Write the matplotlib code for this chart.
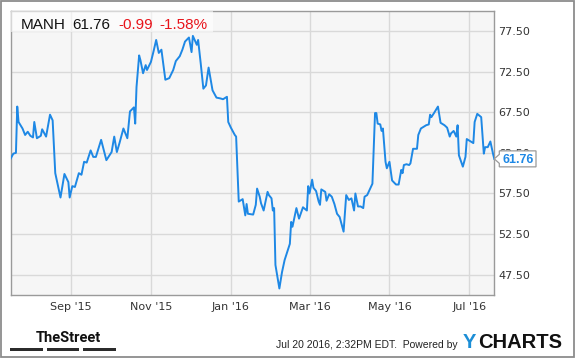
import matplotlib
matplotlib.use('Agg')
import matplotlib.pyplot as plt
import matplotlib.dates as mdates
import matplotlib.transforms as mtransforms
from matplotlib.patches import Rectangle, Polygon
import pandas as pd

ticker = "MANH"
last_price = 61.76
change = -0.99
change_pct = -1.58
timestamp = "Jul 20 2016, 2:32PM EDT."

dates = [
    "2015-07-17", "2015-07-19", "2015-07-21", "2015-07-22", "2015-07-23", "2015-07-26",
    "2015-07-28", "2015-07-30", "2015-08-01", "2015-08-03", "2015-08-04", "2015-08-06",
    "2015-08-09", "2015-08-10", "2015-08-13", "2015-08-16", "2015-08-18", "2015-08-20",
    "2015-08-24", "2015-08-27", "2015-08-30", "2015-08-31", "2015-09-02", "2015-09-04",
    "2015-09-07", "2015-09-09", "2015-09-11", "2015-09-13", "2015-09-16", "2015-09-17",
    "2015-09-18", "2015-09-20", "2015-09-24", "2015-09-28", "2015-10-02", "2015-10-04",
    "2015-10-06", "2015-10-08", "2015-10-11", "2015-10-14", "2015-10-16", "2015-10-19",
    "2015-10-20", "2015-10-21", "2015-10-23", "2015-10-24", "2015-10-26", "2015-10-28",
    "2015-10-29", "2015-11-01", "2015-11-03", "2015-11-05", "2015-11-07", "2015-11-09",
    "2015-11-12", "2015-11-15", "2015-11-18", "2015-11-20", "2015-11-23", "2015-11-25",
    "2015-11-27", "2015-11-30", "2015-12-02", "2015-12-03", "2015-12-06", "2015-12-07",
    "2015-12-09", "2015-12-11", "2015-12-13", "2015-12-15", "2015-12-18", "2015-12-21",
    "2015-12-24", "2015-12-26", "2015-12-29", "2015-12-30", "2016-01-01", "2016-01-04",
    "2016-01-05", "2016-01-07", "2016-01-10", "2016-01-12", "2016-01-13", "2016-01-14",
    "2016-01-18", "2016-01-20", "2016-01-21", "2016-01-23", "2016-01-24", "2016-01-26",
    "2016-01-29", "2016-01-30", "2016-02-01", "2016-02-02", "2016-02-03", "2016-02-04",
    "2016-02-07", "2016-02-09", "2016-02-11", "2016-02-15", "2016-02-16", "2016-02-17",
    "2016-02-20", "2016-02-22", "2016-02-25", "2016-02-28", "2016-02-29", "2016-03-01",
    "2016-03-03", "2016-03-04", "2016-03-06", "2016-03-08", "2016-03-09", "2016-03-10",
    "2016-03-13", "2016-03-14", "2016-03-16", "2016-03-18", "2016-03-20", "2016-03-22",
    "2016-03-24", "2016-03-27", "2016-03-29", "2016-03-31", "2016-04-02", "2016-04-04",
    "2016-04-05", "2016-04-07", "2016-04-09", "2016-04-11", "2016-04-12", "2016-04-14",
    "2016-04-18", "2016-04-20", "2016-04-21", "2016-04-22", "2016-04-24", "2016-04-25",
    "2016-04-26", "2016-04-28", "2016-04-29", "2016-05-01", "2016-05-03", "2016-05-06",
    "2016-05-08", "2016-05-10", "2016-05-11", "2016-05-12", "2016-05-14", "2016-05-16",
    "2016-05-17", "2016-05-19", "2016-05-22", "2016-05-23", "2016-05-25", "2016-05-29",
    "2016-05-31", "2016-06-01", "2016-06-02", "2016-06-04", "2016-06-07", "2016-06-09",
    "2016-06-12", "2016-06-14", "2016-06-16", "2016-06-17", "2016-06-19", "2016-06-21",
    "2016-06-22", "2016-06-23", "2016-06-26", "2016-06-28", "2016-06-29", "2016-07-02",
    "2016-07-04", "2016-07-05", "2016-07-07", "2016-07-10", "2016-07-12", "2016-07-13",
    "2016-07-15", "2016-07-17", "2016-07-19", "2016-07-20",
]

prices = [
    61.8, 62.4, 62.5, 68.2, 66.3, 65.5,
    64.7, 65.1, 64.6, 64.4, 66.3, 64.3,
    64.6, 65.4, 64.5, 67.2, 66.5, 60.0,
    57.0, 59.9, 58.9, 57.0, 58.4, 58.3,
    60.0, 59.8, 61.4, 61.3, 62.8, 62.4,
    62.0, 62.0, 64.1, 61.6, 62.6, 64.5,
    62.6, 63.7, 65.5, 64.3, 67.6, 68.1,
    66.1, 70.6, 74.5, 73.9, 72.3, 73.3,
    72.7, 73.7, 75.0, 76.4, 74.8, 75.2,
    71.5, 71.7, 72.7, 73.8, 74.4, 75.2,
    76.2, 76.7, 74.9, 76.9, 75.8, 76.4,
    73.5, 70.4, 70.8, 73.0, 70.2, 69.3,
    69.2, 69.1, 69.4, 66.3, 65.6, 64.7,
    64.5, 56.5, 56.8, 54.8, 56.2, 55.0,
    54.9, 56.1, 58.1, 57.1, 56.3, 55.4,
    57.7, 57.3, 56.9, 55.4, 55.7, 48.7,
    45.8, 47.8, 49.3, 51.3, 54.0, 53.4,
    55.7, 54.4, 55.8, 55.4, 58.4, 57.5,
    59.2, 58.2, 57.8, 56.5, 56.1, 58.0,
    57.7, 56.6, 57.4, 57.1, 56.2, 55.0,
    54.6, 52.8, 57.3, 56.7, 56.9, 55.4,
    57.5, 55.9, 55.9, 55.7, 57.1, 57.3,
    58.7, 67.4, 67.4, 66.1, 66.0, 65.2,
    65.5, 61.4, 60.6, 61.4, 59.1, 58.6,
    58.6, 60.4, 60.0, 61.0, 61.1, 61.0,
    61.2, 63.0, 63.0, 64.7, 65.5, 65.9,
    66.0, 67.2, 66.9, 67.4, 68.2, 66.2,
    65.9, 65.6, 64.5, 64.9, 65.2, 64.5,
    65.9, 62.2, 60.8, 62.0, 64.2, 63.9,
    63.7, 66.3, 67.3, 66.9, 62.4, 63.2,
    63.2, 63.9, 62.4, 61.76,
]

y_ticks = [47.5, 52.5, 57.5, 62.5, 67.5, 72.5, 77.5]
y_range = [45, 80]
x_tick_dates = ["2015-09-01", "2015-11-01", "2016-01-01", "2016-03-01", "2016-05-01", "2016-07-01"]
x_tick_labels = ["Sep '15", "Nov '15", "Jan '16", "Mar '16", "May '16", "Jul '16"]

LINE = '#1e88e5'
SANS = ['Liberation Sans', 'DejaVu Sans']

W, H = 575, 358
fig = plt.figure(figsize=(W / 100, H / 100), dpi=100)
L, R, T, B = 10.7, 494.3, 10.7, 295.0
ax = fig.add_axes([L / W, 1 - B / H, (R - L) / W, (B - T) / H])
ax.set_facecolor('#f6f6f6')

d = pd.to_datetime(dates)
ax.plot(d, prices, color=LINE, lw=1.4, zorder=3, solid_joinstyle='round')

ax.set_xticks(pd.to_datetime(x_tick_dates))
ax.set_xticklabels(x_tick_labels)
ax.set_yticks(y_ticks)
ax.set_yticklabels([f'{v:.2f}' for v in y_ticks])
ax.yaxis.tick_right()
ax.tick_params(length=0, colors='#333333', labelsize=8)
ax.tick_params(axis='y', pad=3)
ax.tick_params(axis='x', pad=5)
ax.grid(True, color='#d9d9d9', lw=1)
ax.set_axisbelow(True)
for s in ax.spines.values():
    s.set_color('#9a9a9a')
    s.set_linewidth(1)

# translucent header box
bh = 21.6 / (B - T)
bw = (213 - L) / (R - L)
ax.add_patch(Rectangle((0, 1 - bh), bw, bh, transform=ax.transAxes,
                       facecolor='white', alpha=0.6, edgecolor='none', zorder=4))

# last value callout
x_last = mdates.date2num(d[-1])
anchor = mtransforms.ScaledTranslation(x_last, prices[-1], ax.transData)
tr = mtransforms.Affine2D() + anchor
shape = [(0, 0), (5, 4.5), (5, 8), (41.7, 8), (41.7, -8), (5, -8), (5, -4.5)]
callout = Polygon(shape, closed=True, transform=tr, facecolor='white',
                  edgecolor='#9a9a9a', lw=0.9, zorder=6, clip_on=False)
ax.add_patch(callout)
ax.annotate(f'{last_price:.2f}', xy=(x_last, prices[-1]), xytext=(23.4, 0),
            textcoords='offset pixels', ha='center', va='center_baseline',
            fontsize=9, fontweight='bold', color=LINE, family=SANS,
            zorder=7, annotation_clip=False)

ax.set_xlim(d[0], d[-1])
ax.set_ylim(*y_range)

def fx(x):
    return x / W

def fy(y):
    return 1 - y / H

# header text
hdr_y = fy(29.3)
fig.text(fx(21), hdr_y, ticker, fontsize=11, family=SANS, color='#111111', va='baseline')
fig.text(fx(72), hdr_y, f'{last_price:.2f}', fontsize=11, family=SANS, color='#111111', va='baseline')
fig.text(fx(118), hdr_y, f'{change:.2f}', fontsize=11, family=SANS, color='#e8141b', va='baseline')
fig.text(fx(159), hdr_y, f'{change_pct:.2f}%', fontsize=11, family=SANS, color='#e8141b', va='baseline')

# footer
fig.text(fx(36), fy(341.7), 'TheStreet', fontsize=10.5, fontweight='bold',
         family=['Roboto', 'Liberation Sans', 'DejaVu Sans'], color='#111111', va='baseline')
ident = mtransforms.IdentityTransform()
for x0, x1 in [(10, 43), (47, 79), (83, 116)]:
    fig.add_artist(Rectangle((x0, H - 351.2), x1 - x0, 3, transform=ident,
                             facecolor='#2b2b2b', edgecolor='none'))
fig.text(fx(458), fy(348.3), timestamp + '  Powered by', fontsize=7.5, family=SANS,
         color='#222222', ha='right', va='baseline')
fig.text(fx(463), fy(348.3), 'Y', fontsize=14.5, fontweight='bold', family=SANS,
         color='#1c8ed6', va='baseline')
fig.text(fx(478), fy(348.3), 'CHARTS', fontsize=14.5, fontweight='bold', family=SANS,
         color='#111111', va='baseline')

# outer frame
fig.add_artist(Rectangle((0.8, 0.8), W - 1.6, H - 1.6, transform=ident,
                         fill=False, edgecolor='#8c8c8c', lw=1.3))

fig.savefig('out.png', dpi=100)
